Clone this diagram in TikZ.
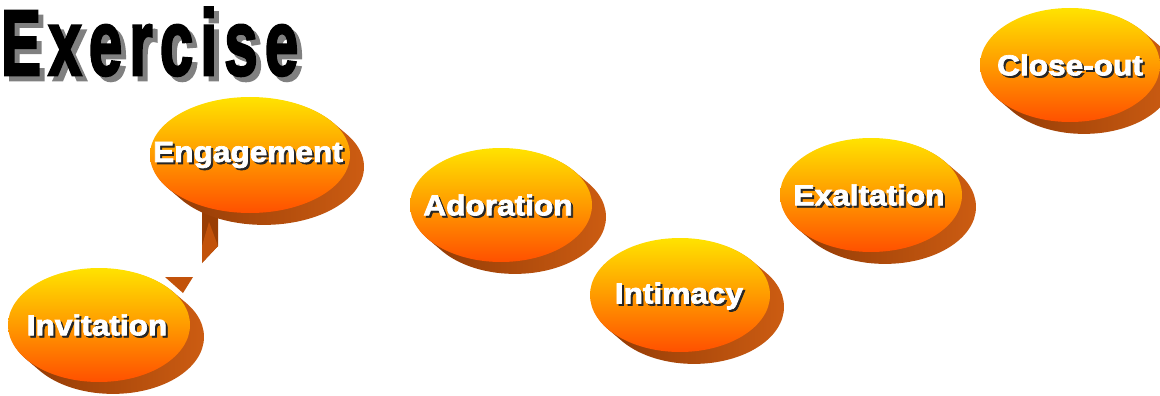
\documentclass[tikz,border=0pt]{standalone}
\usepackage{fontspec}
\usetikzlibrary{shapes.geometric}
\newfontfamily\heavyfont{Liberation Sans}[BoldFeatures={FakeBold=2.4}]
\newfontfamily\titlefont{Liberation Sans}[BoldFeatures={FakeBold=3},LetterSpace=12]
\definecolor{topyel}{HTML}{FFE300}
\definecolor{midor}{HTML}{FF9A00}
\definecolor{botred}{HTML}{FF5000}
\definecolor{sidedark}{HTML}{8E3804}
\definecolor{sidelight}{HTML}{CC5C12}
\definecolor{arrdark}{HTML}{9A3E04}
\definecolor{arrmid}{HTML}{C2520A}
\tikzset{
  face/.style={ellipse, inner sep=0pt, top color=topyel, bottom color=botred, middle color=midor},
  side/.style={left color=sidedark, right color=sidelight},
  lbl/.style={font=\heavyfont\bfseries\fontsize{29}{29}\selectfont, xscale=1.09, inner sep=0pt},
  lblshadow/.style={lbl, text=black!85},
  lbltext/.style={lbl, text=white},
  titlestyle/.style={font=\titlefont\bfseries\fontsize{93}{93}\selectfont, xscale=0.645, inner sep=0pt, anchor=base west}
}
% #1 name, #2 cx, #3 cy, #4 rx, #5 ry, #6 text, #7 text x, #8 text y
\newcommand\mydisc[8]{%
  \shade[side] \foreach \k in {1,...,14}{ ({#2+\k},{#3+0.85*\k}) ellipse [x radius=#4, y radius=#5] };
  \node[face, minimum width={2*#4 pt}, minimum height={2*#5 pt}] (#1) at (#2,#3) {};
  \node[lblshadow] (#1-s) at ({#7+2},{#8+2}) {#6};
  \node[lbltext] (#1-t) at (#7,#8) {#6};
}
\begin{document}
\begin{tikzpicture}[x=1pt,y=-1pt]
\useasboundingbox (0,0) rectangle (1160,396);
\clip (0,0) rectangle (1160,396);
% title
\node[titlestyle, text=black!50] (title-s) at (6,80) {Exercise};
\node[titlestyle, text=black] (title) at (1,75) {Exercise};
% arrow fragments between Invitation and Engagement
\fill[arrdark] (202,205) -- (218,205) -- (218,246) -- (202,263) -- cycle;
\fill[arrmid] (209,222) -- (218,246) -- (202,263) -- (202,246) -- cycle;
\fill[arrmid] (165,277) -- (193,277) -- (183,293) -- cycle;
% discs
\mydisc{eng}{250}{155}{100}{58}{Engagement}{248}{155}
\mydisc{inv}{99}{325}{91}{57}{Invitation}{97}{325}
\mydisc{ado}{501}{205}{91}{57}{Adoration}{498}{205}
\mydisc{int}{680}{295}{90}{57}{Intimacy}{679}{296}
\mydisc{exa}{871}{195}{91}{57}{Exaltation}{869}{195}
\mydisc{clo}{1070}{65}{90}{57}{Close-out}{1070}{65}
\end{tikzpicture}
\end{document}
